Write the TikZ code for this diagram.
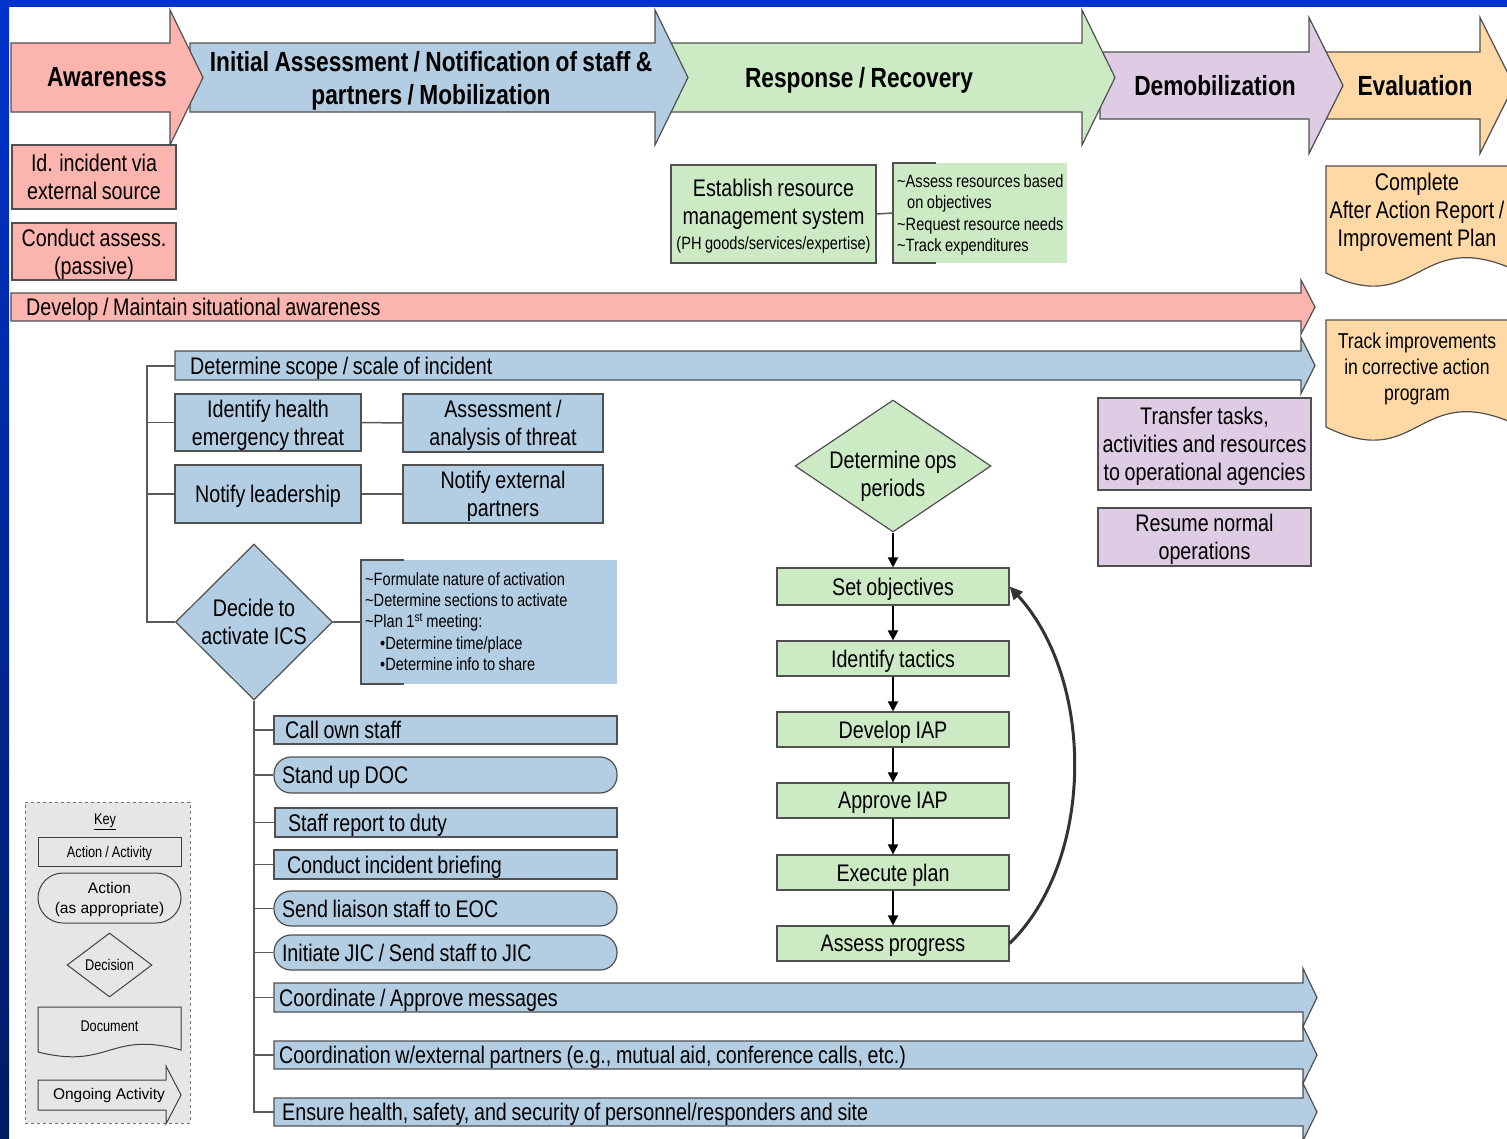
\documentclass[tikz,border=0pt]{standalone}
\usepackage{fontspec}
\setmainfont{Liberation Sans}[FakeStretch=0.82,WordSpace=0.85]
\newfontfamily\widefont{Liberation Sans}
\usetikzlibrary{shapes.geometric,arrows.meta}
\definecolor{cpink}{RGB}{251,180,174}
\definecolor{cblue}{RGB}{179,205,227}
\definecolor{cgreen}{RGB}{204,235,197}
\definecolor{cpurp}{RGB}{222,203,228}
\definecolor{corng}{RGB}{254,217,166}
\definecolor{edgec}{RGB}{80,80,80}
\definecolor{conncol}{RGB}{90,90,90}
\definecolor{topblue}{RGB}{0,51,204}
\definecolor{navyc}{RGB}{0,28,100}
\definecolor{keybg}{RGB}{230,230,230}
\definecolor{loopc}{RGB}{51,51,51}
\newcommand\bodyfont{\fontsize{24}{28}\selectfont}
\newcommand\titlefont{\fontsize{27.7}{33}\selectfont\bfseries}
\newcommand\smallfont{\fontsize{17.8}{21.3}\selectfont}
\newcommand\keyfont{\fontsize{15.5}{19}\selectfont}
\newcommand\lt[2]{\makebox[#1][l]{#2}}
% fill, x0, xbase, xtip, ycenter, half body, half head
\newcommand\harrow[7]{\draw[fill=#1,draw=edgec,line width=1.2pt,line join=miter]
  (#2,#5-#6) -- (#3,#5-#6) -- (#3,#5-#7) -- (#4,#5) -- (#3,#5+#7) -- (#3,#5+#6) -- (#2,#5+#6) -- cycle;}
\begin{document}
\begin{tikzpicture}[x=1pt,y=-1pt,
  box/.style={draw=edgec,line width=1.2pt,inner sep=0pt,align=center,font=\bodyfont,text depth=0pt},
  lbox/.style={box,inner xsep=#1},
  pill/.style={rounded corners=17pt},
  lbl/.style={inner sep=0pt,align=left,anchor=west,font=\bodyfont,text depth=0pt},
  title/.style={inner sep=0pt,align=center,font=\titlefont,text depth=0pt},
  dia/.style={diamond,draw=edgec,line width=1.2pt,inner sep=0pt},
  conn/.style={draw=conncol,line width=1.5pt},
  flow/.style={draw=black,line width=2pt,-{Triangle[length=10pt,width=10pt]}},
  loopar/.style={draw=loopc,line width=3pt,-{Triangle[length=13pt,width=12pt]}},
  bracket/.style={draw=edgec,line width=1.2pt},
  kshape/.style={draw=black!75,line width=1pt,inner sep=0pt,align=center,font=\keyfont,text depth=0pt}]
\useasboundingbox (0,0) rectangle (1507,1138);
\clip (0,0) rectangle (1507,1138);
\fill[white] (0,0) rectangle (1507,1138);

% ---------- phase arrows ----------
\harrow{corng}{1320}{1480}{1514}{85.5}{33.5}{68}
\harrow{cpurp}{1100}{1309}{1343}{85.5}{33.5}{68}
\harrow{cgreen}{670}{1082}{1115}{77.5}{34.5}{67.5}
\harrow{cblue}{190}{655}{688}{77.5}{34.5}{67.5}
\harrow{cpink}{11}{170}{203}{77.5}{34.5}{67.5}
\node[title] (tAware) at (107,77) {Awareness};
\node[title] (tInit) at (431,77.5) {Initial Assessment / Notification of staff \&\\partners / Mobilization};
\node[title] (tResp) at (859,77) {Response / Recovery};
\node[title] (tDemob) at (1215,85) {Demobilization};
\node[title] (tEval) at (1415,85) {Evaluation};

% ---------- awareness column ----------
\node[box,fill=cpink,minimum width=164pt,minimum height=64pt] (idinc) at (94,177) {Id. incident via\\external source};
\node[box,fill=cpink,minimum width=164pt,minimum height=57pt] (condas) at (94,251.5) {Conduct assess.\\(passive)};
\harrow{cpink}{11}{1301}{1315}{307}{14}{27}
\node[lbl] (devt) at (26,307) {Develop / Maintain situational awareness};
\harrow{cblue}{175}{1301}{1315}{365.5}{14.5}{28}
\node[lbl] (scopet) at (190,365.5) {Determine scope / scale of incident};
\coordinate (scopeL) at (175,366);

% ---------- initial assessment ----------
\node[box,fill=cblue,minimum width=186pt,minimum height=57pt] (idhealth) at (268,422.5) {Identify health\\emergency threat};
\node[box,fill=cblue,minimum width=200pt,minimum height=58pt] (assess) at (503,423) {Assessment /\\analysis of threat};
\node[box,fill=cblue,minimum width=186pt,minimum height=58pt] (notlead) at (268,494) {Notify leadership};
\node[box,fill=cblue,minimum width=200pt,minimum height=58pt] (notext) at (503,494) {Notify external\\partners};
\node[dia,fill=cblue,minimum width=157pt,minimum height=156pt] (decide) at (254,622) {};
\node[title,font=\bodyfont] (decidet) at (254,622) {Decide to\\activate ICS};
\node[fill=cblue,inner sep=0pt,minimum width=256pt,minimum height=124pt] (icsbox) at (489,622) {};
\draw[bracket] (404,560) -- (361,560) -- (361,684) -- (404,684);
\node[lbl,font=\smallfont] (icst) at (365,621.5) {\textasciitilde Formulate nature of activation\\
\textasciitilde Determine sections to activate\\
\textasciitilde Plan 1\textsuperscript{st} meeting:\\
\hspace*{15pt}\textbullet Determine time/place\\
\hspace*{15pt}\textbullet Determine info to share};

\draw[conn] (scopeL) -- (147,366) -- (147,622) -- (decide.west);
\draw[conn] (idhealth.west) -- +(-28,0);
\draw[conn] (notlead.west) -- +(-28,0);
\draw[conn] (idhealth.east) -- (assess.west);
\draw[conn] (notlead.east) -- (notext.west);
\draw[conn] (decide.east) -- (icsbox.west);

% ---------- mobilization list ----------
\node[lbox=11pt,fill=cblue,minimum height=28pt] (callown) at (445.5,730) {\lt{321pt}{Call own staff}};
\node[lbox=8pt,pill,fill=cblue,minimum height=36pt] (standup) at (445.5,775) {\lt{327pt}{Stand up DOC}};
\node[lbox=13pt,fill=cblue,minimum height=29pt] (staffrep) at (446,822.5) {\lt{316pt}{Staff report to duty}};
\node[lbox=13pt,fill=cblue,minimum height=29pt] (brief) at (445.5,864.5) {\lt{317pt}{Conduct incident briefing}};
\node[lbox=8pt,pill,fill=cblue,minimum height=35pt] (liaison) at (445.5,908.5) {\lt{327pt}{Send liaison staff to EOC}};
\node[lbox=8pt,pill,fill=cblue,minimum height=35pt] (jic) at (445.5,952.5) {\lt{327pt}{Initiate JIC / Send staff to JIC}};
\harrow{cblue}{274}{1303}{1317}{1112}{14}{28.5}
\harrow{cblue}{274}{1303}{1317}{1055}{14}{28.5}
\harrow{cblue}{274}{1303}{1317}{997.5}{14.5}{29}
\node[lbl] (coordt) at (279,997.5) {Coordinate / Approve messages};
\node[lbl] (extt) at (279,1055) {Coordination w/external partners (e.g., mutual aid, conference calls, etc.)};
\node[lbl] (ensuret) at (282,1112) {Ensure health, safety, and security of personnel/responders and site};
\coordinate (coordL) at (274,997.5);
\coordinate (extL) at (274,1055);
\coordinate (ensureL) at (274,1112);
\draw[conn] (decide.south) -- (254,1112) -- (ensureL);
\foreach \n in {callown,standup,staffrep,brief,liaison,jic}{\draw[conn] (\n.west) -- (\n.west -| 254,0);}
\draw[conn] (coordL) -- (254,997.5);
\draw[conn] (extL) -- (254,1055);

% ---------- response / recovery ----------
\node[box,fill=cgreen,minimum width=205pt,minimum height=98pt] (estab) at (773.5,214) {Establish resource\\management system\\[-3pt]{\smallfont (PH goods/services/expertise)}};
\node[fill=cgreen,inner sep=0pt,minimum width=174pt,minimum height=100pt] (resbox) at (980,213) {};
\draw[bracket] (936,163) -- (893,163) -- (893,263) -- (936,263);
\node[lbl,font=\smallfont] (rest) at (897,213) {\textasciitilde Assess resources based\\
\hspace*{10pt}on objectives\\
\textasciitilde Request resource needs\\
\textasciitilde Track expenditures};
\draw[conn] (estab.east) -- (resbox.west);

\node[dia,fill=cgreen,minimum width=196pt,minimum height=132pt] (ops) at (893,466) {};
\node[title,font=\bodyfont] (opst) at (893,473.5) {Determine ops\\periods};
\node[box,fill=cgreen,minimum width=232pt,minimum height=37pt] (setobj) at (893,586.5) {Set objectives};
\node[box,fill=cgreen,minimum width=232pt,minimum height=35pt] (tactics) at (893,658.5) {Identify tactics};
\node[box,fill=cgreen,minimum width=232pt,minimum height=35pt] (devIAP) at (893,729.5) {Develop IAP};
\node[box,fill=cgreen,minimum width=232pt,minimum height=35pt] (appIAP) at (893,800.5) {Approve IAP};
\node[box,fill=cgreen,minimum width=232pt,minimum height=35pt] (execp) at (893,872.5) {Execute plan};
\node[box,fill=cgreen,minimum width=232pt,minimum height=35pt] (assessp) at (893,943.5) {Assess progress};
\draw[flow] (ops.south) -- (setobj.north);
\draw[flow] (setobj.south) -- (tactics.north);
\draw[flow] (tactics.south) -- (devIAP.north);
\draw[flow] (devIAP.south) -- (appIAP.north);
\draw[flow] (appIAP.south) -- (execp.north);
\draw[flow] (execp.south) -- (assessp.north);
\draw[loopar] (assessp.east) .. controls (1095,860) and (1095,680) .. (setobj.east);

% ---------- demobilization ----------
\node[box,fill=cpurp,minimum width=213pt,minimum height=92pt] (transfer) at (1204.5,444) {Transfer tasks,\\activities and resources\\to operational agencies};
\node[box,fill=cpurp,minimum width=213pt,minimum height=58pt] (resume) at (1204.5,537) {Resume normal\\operations};

% ---------- evaluation ----------
\draw[fill=corng,draw=edgec,line width=1.2pt] (1326,166) -- (1508,166) -- (1508,267)
  .. controls (1417,230) and (1417,318) .. (1326,273) -- cycle;
\node[title,font=\bodyfont] (aart) at (1417,209.5) {Complete\\After Action Report /\\Improvement Plan};
\draw[fill=corng,draw=edgec,line width=1.2pt] (1326,320) -- (1508,320) -- (1508,421)
  .. controls (1417,384) and (1417,472) .. (1326,427) -- cycle;
\node[title,font=\fontsize{21.5}{26}\selectfont] (trackt) at (1417,367) {Track improvements\\in corrective action\\program};

% ---------- key ----------
\node[draw=black!55,dashed,line width=1pt,fill=keybg,minimum width=165pt,minimum height=321pt] (keybox) at (107.5,962.5) {};
\node[inner sep=0pt,font=\keyfont,text depth=0pt] (keyt) at (105,819) {\underline{Key}};
\node[kshape,minimum width=143pt,minimum height=29pt] (kact) at (109.5,851.5) {Action / Activity};
\node[kshape,rounded corners=25pt,minimum width=143pt,minimum height=50pt,font=\widefont\fontsize{15.5}{20}\selectfont] (kpill) at (109.5,898) {Action\\(as appropriate)};
\node[kshape,diamond,minimum width=85pt,minimum height=64pt] (kdec) at (109.5,965) {};
\node[inner sep=0pt,font=\keyfont,text depth=0pt] (kdect) at (109.5,965) {Decision};
\draw[draw=black!75,line width=1pt] (38,1007) -- (181,1007) -- (181,1050)
  .. controls (109.5,1030) and (109.5,1070) .. (38,1052) -- cycle;
\node[inner sep=0pt,font=\keyfont,text depth=0pt] (kdoct) at (109.5,1026) {Document};
\draw[draw=black!75,line width=1pt,line join=miter] (38,1080) -- (166,1080) -- (166,1066) -- (181,1095) -- (166,1124) -- (166,1110) -- (38,1110) -- cycle;
\node[inner sep=0pt,font=\widefont\fontsize{15.5}{19}\selectfont,text depth=0pt] (kongt) at (109,1094) {Ongoing Activity};

% ---------- frame ----------
\fill[topblue] (0,0) rectangle (1507,7);
\shade[top color=topblue,bottom color=navyc] (0,0) rectangle (9,1138);
\end{tikzpicture}
\end{document}
